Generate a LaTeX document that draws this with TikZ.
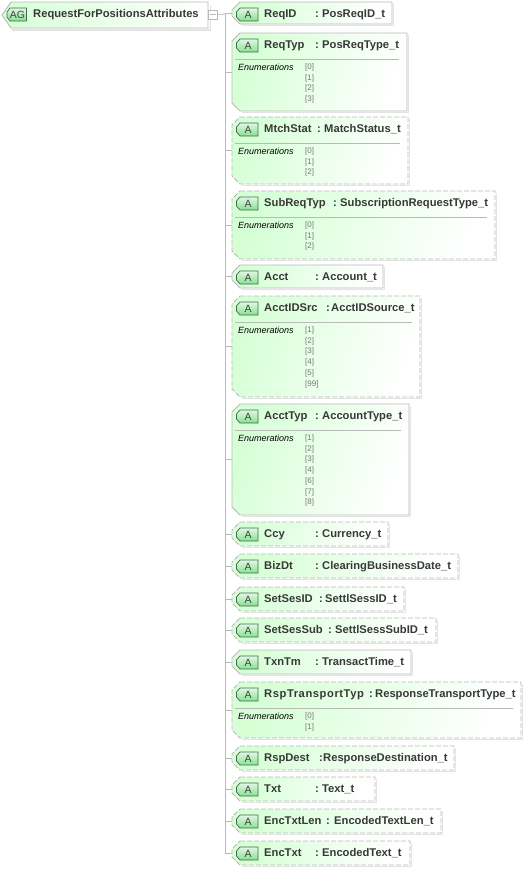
\documentclass[tikz,border=0pt]{standalone}
\usepackage{fontspec}
\setmainfont{Liberation Sans}
\definecolor{edgegray}{RGB}{185,185,185}
\definecolor{shadowgray}{RGB}{228,228,228}
\definecolor{mint}{RGB}{214,255,214}
\definecolor{badgedark}{RGB}{70,105,80}
\definecolor{badgegreen}{RGB}{135,225,145}
\definecolor{enumgray}{RGB}{120,120,120}
\tikzset{
  x=1pt,y=-1pt,
  wire/.style={draw=edgegray,line width=.8pt},
  anchorbox/.style={inner sep=0,outer sep=0,draw=none},
  nametext/.style={font=\bfseries\fontsize{11.2}{13}\selectfont,text=black!78,anchor=base west,inner sep=0},
  enumhead/.style={font=\itshape\fontsize{9}{11}\selectfont,anchor=base west,inner sep=0},
  enumval/.style={font=\fontsize{8}{10}\selectfont,text=enumgray,anchor=base west,inner sep=0},
  solidline/.style={solid},
  dashline/.style={dash pattern=on 5pt off 2pt},
}
% name, x1, y0, y1, linestyle, attr, colon x, type x, type
\newcommand{\attrbox}[9]{%
  \path[solid,draw=shadowgray,line width=1.2pt] (232+8+2,#4+1.8) -- (#2+1.8,#4+1.8) -- (#2+1.8,#3+2);
  \path[shading=axis,left color=mint,right color=white,shading angle=70]
    (232+8,#3) -- (#2,#3) -- (#2,#4) -- (232+8,#4) -- (232,#4-8) -- (232,#3+8) -- cycle;
  \draw[#5,draw=edgegray,line width=.9pt]
    (232+8,#3) -- (#2,#3) -- (#2,#4) -- (232+8,#4) -- (232,#4-8) -- (232,#3+8) -- cycle;
  \node[anchorbox,minimum width=#2-232,minimum height=#4-#3,anchor=north west] (#1) at (232,#3) {};
  \draw[draw=badgedark,line width=.7pt,top color=white!75!badgegreen,bottom color=badgegreen]
    (240,#3+6) -- (258,#3+6) -- (258,#3+19) -- (240,#3+19) -- (236.5,#3+15) -- (236.5,#3+10) -- cycle;
  \node[font=\fontsize{10.5}{12}\selectfont,text=black!75,inner sep=0] at (248,#3+12.7) {A};
  \node[nametext] at (264,#3+15) {#6};
  \node[nametext] at (#7,#3+15) {:};
  \node[nametext] at (#8,#3+15) {#9};
}
\newcommand{\enumrule}[2]{%
  \draw[edgegray,line width=.9pt] (235,#2+26.5) -- (#1-8,#2+26.5);
  \node[enumhead] at (238,#2+37) {Enumerations};
}
\newcommand{\enumlines}[2]{%
  \foreach \v [count=\i from 0] in {#2} {\node[enumval] at (305,#1+36.5+\i*10.7) {[\v]};}
}
\begin{document}
\begin{tikzpicture}
\useasboundingbox (0,0) rectangle (524,871);
\fill[white] (0,0) rectangle (524,871);
% group box
\path[draw=shadowgray,line width=1.3pt] (12,30) -- (210.5,30) -- (210.5,5);
\path[shading=axis,left color=mint,right color=white]
  (11,2) -- (208,2) -- (208,28) -- (11,28) -- (2,15) -- cycle;
\draw[edgegray,line width=.9pt] (11,2) -- (208,2) -- (208,28) -- (11,28) -- (2,15) -- cycle;
\node[anchorbox,minimum width=206,minimum height=26,anchor=north west] (group) at (2,2) {};
\draw[badgedark,line width=.7pt,top color=white!75!badgegreen,bottom color=badgegreen]
  (10,8) -- (26.5,8) -- (26.5,21) -- (10,21) -- (7,17) -- (7,12) -- cycle;
\node[font=\fontsize{10.5}{12}\selectfont,text=black!75,inner sep=0] at (17.5,14.7) {AG};
\node[nametext] at (33,17) {RequestForPositionsAttributes};
% expander
\node[anchorbox,draw=edgegray,fill=white,minimum width=9,minimum height=9,line width=.8pt] (expander) at (212.5,14.5) {};
\draw[edgegray,line width=.8pt] (209.5,14.5) -- (215.5,14.5);
\coordinate (trunktop) at (225,14);
\coordinate (trunkend) at (225,853);
\draw[wire] (expander.east) -- (trunktop);
\draw[wire] (trunktop) -- (trunkend);
% attributes
\attrbox{a1}{392}{2}{24}{solidline}{ReqID}{315}{322}{PosReqID\_t}
\attrbox{a2}{407}{33}{111}{solidline}{ReqTyp}{315}{322}{PosReqType\_t}
\enumrule{407}{33}\enumlines{33}{0,1,2,3}
\attrbox{a3}{408}{117}{184}{dashline}{MtchStat}{317}{324}{MatchStatus\_t}
\enumrule{408}{117}\enumlines{117}{0,1,2}
\attrbox{a4}{495}{191}{259}{dashline}{SubReqTyp}{333}{340}{SubscriptionRequestType\_t}
\enumrule{495}{191}\enumlines{191}{0,1,2}
\attrbox{a5}{383}{265}{288}{solidline}{Acct}{315}{322}{Account\_t}
\attrbox{a6}{420}{296}{397}{dashline}{AcctIDSrc}{326}{331}{AcctIDSource\_t}
\enumrule{420}{296}\enumlines{296}{1,2,3,4,5,99}
\attrbox{a7}{409}{404}{515}{solidline}{AcctTyp}{315}{322}{AccountType\_t}
\enumrule{409}{404}\enumlines{404}{1,2,3,4,6,7,8}
\attrbox{a8}{388}{522}{546}{dashline}{Ccy}{315}{322}{Currency\_t}
\attrbox{a9}{458}{554}{578}{dashline}{BizDt}{315}{322}{ClearingBusinessDate\_t}
\attrbox{a10}{404}{587}{611}{dashline}{SetSesID}{319}{325}{SettlSessID\_t}
\attrbox{a11}{436}{618}{642}{dashline}{SetSesSub}{328}{335}{SettlSessSubID\_t}
\attrbox{a12}{411}{650}{674}{solidline}{TxnTm}{315}{322}{TransactTime\_t}
\attrbox{a13}{521}{682}{738}{dashline}{{\addfontfeature{LetterSpace=5}RspTransportTyp}}{369}{375}{ResponseTransportType\_t}
\enumrule{521}{682}\enumlines{682}{0,1}
\attrbox{a14}{454}{746}{770}{dashline}{RspDest}{319}{323}{ResponseDestination\_t}
\attrbox{a15}{375}{777}{801}{dashline}{Txt}{315}{322}{Text\_t}
\attrbox{a16}{441}{809}{833}{dashline}{EncTxtLen}{326}{334}{EncodedTextLen\_t}
\attrbox{a17}{410}{841}{865}{dashline}{EncTxt}{315}{322}{EncodedText\_t}
\foreach \n in {1,...,17} {\draw[wire] (a\n.west -| trunktop) -- (a\n.west);}
\end{tikzpicture}
\end{document}
